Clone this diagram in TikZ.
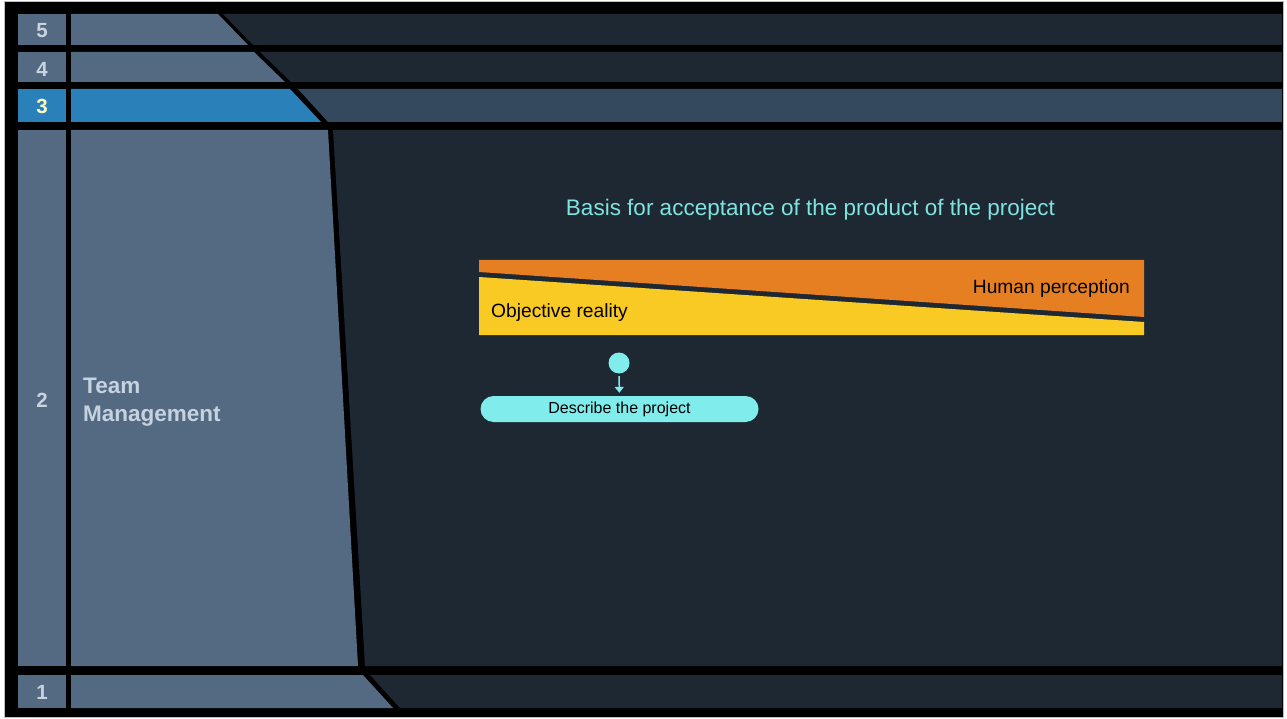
\documentclass[tikz,border=0pt]{standalone}
\usepackage{fontspec}
\setmainfont{Liberation Sans}
\usetikzlibrary{arrows.meta}

\definecolor{slatecell}{HTML}{546A82}
\definecolor{darkcell}{HTML}{1E2833}
\definecolor{midcell}{HTML}{34495E}
\definecolor{activecell}{HTML}{2A80B9}
\definecolor{numgrey}{HTML}{C8D3DF}
\definecolor{numlight}{HTML}{FFF9C4}
\definecolor{labelgrey}{HTML}{C5D2E0}
\definecolor{framegrey}{HTML}{BDBDBD}
\definecolor{cyanfill}{HTML}{81ECEC}
\definecolor{titlecyan}{HTML}{7FE3E0}
\definecolor{orangebar}{HTML}{E67E22}
\definecolor{yellowbar}{HTML}{F9CA24}

\begin{document}
\begin{tikzpicture}[x=1pt,y=-1pt]
\tikzset{
  numtext/.style={font=\bfseries\fontsize{20.5}{24}\selectfont,text=numgrey,inner sep=0pt},
  lanetext/.style={font=\bfseries\fontsize{22.5}{28}\selectfont,text=labelgrey,align=left,inner sep=0pt},
  bartext/.style={font=\fontsize{19.2}{23}\selectfont,text=black,inner sep=0pt},
  titletext/.style={font=\fontsize{22.5}{27}\selectfont,text=titlecyan,inner sep=0pt},
  startdot/.style={circle,fill=cyanfill,minimum size=21pt,inner sep=0pt},
  actionbox/.style={fill=cyanfill,rounded corners=13pt,minimum width=278pt,minimum height=26pt,
    inner sep=0pt,font=\fontsize{16}{19}\selectfont,text=black},
  flowarrow/.style={-{Triangle[width=9pt,length=6pt]},line width=1.5pt,draw=cyanfill,
    shorten <=2.5pt,shorten >=3pt}
}
\useasboundingbox (0,0) rectangle (1287,719);
\fill[white] (0,0) rectangle (1287,719);
\filldraw[fill=black,draw=framegrey,line width=1pt] (4,2) rectangle (1283,717);

% number column
\fill[slatecell] (18,14) rectangle (66,45);
\fill[slatecell] (18,52) rectangle (66,82);
\fill[activecell] (18,89) rectangle (66,122);
\fill[slatecell] (18,130) rectangle (66,666);
\fill[slatecell] (18,675) rectangle (66,708);

% lane 5
\fill[slatecell] (71,14) -- (218,14) -- (248,45) -- (71,45) -- cycle;
\fill[darkcell] (223,14) -- (1282,14) -- (1282,45) -- (253,45) -- cycle;
% lane 4
\fill[slatecell] (71,52) -- (254,52) -- (285,82) -- (71,82) -- cycle;
\fill[darkcell] (260,52) -- (1282,52) -- (1282,82) -- (291,82) -- cycle;
% lane 3 (active)
\fill[activecell] (71,89) -- (290,89) -- (321,122) -- (71,122) -- cycle;
\fill[midcell] (298,89) -- (1282,89) -- (1282,122) -- (328,122) -- cycle;
% lane 2
\fill[slatecell] (71,130) -- (328,130) -- (358,666) -- (71,666) -- cycle;
\fill[darkcell] (333,130) -- (1282,130) -- (1282,666) -- (365,666) -- cycle;
% lane 1
\fill[slatecell] (71,675) -- (363,675) -- (393,708) -- (71,708) -- cycle;
\fill[darkcell] (370,675) -- (1282,675) -- (1282,708) -- (400,708) -- cycle;

\node[numtext] (n_num_5) at (42,31) {5};
\node[numtext] (n_num_4) at (42,69) {4};
\node[numtext,text=numlight] (n_num_3) at (42,106) {3};
\node[numtext] (n_num_2) at (42,400) {2};
\node[numtext] (n_num_1) at (42,692) {1};
\node[lanetext,anchor=west] (n_lane_2) at (83,402) {Team\\Management};

% perception bar
\fill[orangebar] (479,260) -- (1144,260) -- (1144,317) -- (479,272) -- cycle;
\fill[yellowbar] (479,277) -- (1144,322) -- (1144,335) -- (479,335) -- cycle;

\node[titletext,anchor=base] (n_title) at (810.5,216) {Basis for acceptance of the product of the project};
\node[bartext,anchor=base east] (n_human) at (1130,293) {Human perception};
\node[bartext,anchor=base west] (n_objective) at (491,317) {Objective reality};

\node[startdot] (n_start) at (619,363) {};
\node[actionbox] (n_describe) at (619.5,409) {Describe the project};
\draw[flowarrow] (n_start) -- (n_describe);
\end{tikzpicture}
\end{document}
